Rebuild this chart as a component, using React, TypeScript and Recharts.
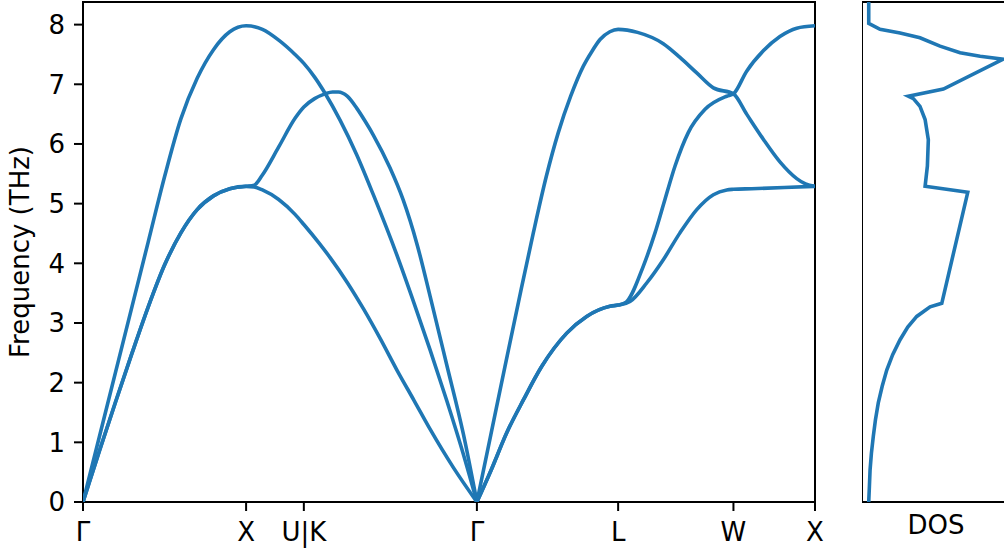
import { LineChart, Line, XAxis, YAxis, ReferenceArea } from 'recharts'

const BLUE = '#1f77b4'
const FONT = 'DejaVu Sans'

// high-symmetry points along the path (distance units)
const kLabels = ['Γ', 'X', 'U|K', 'Γ', 'L', 'W', 'X']
const kTicks = [0, 1, 1.354, 2.415, 3.281, 3.988, 4.488]
const freqTicks = [0, 1, 2, 3, 4, 5, 6, 7, 8]
const Y_MAX = 8.379

// Γ – X – U|K – Γ
const gxkLow = [
  [0, 0], [0.1, 0.85], [0.2, 1.68], [0.3, 2.49], [0.4, 3.27], [0.5, 3.97], [0.6, 4.51], [0.7, 4.9], [0.8, 5.13], [0.9, 5.25], [1, 5.29],
  [1.05, 5.28], [1.1, 5.23], [1.2, 5.07], [1.3, 4.82], [1.354, 4.65],
  [1.45, 4.33], [1.514, 4.1], [1.62, 3.68], [1.719, 3.24], [1.82, 2.75], [1.923, 2.22], [2.03, 1.7], [2.128, 1.22], [2.27, 0.58], [2.415, 0],
]
const gxkMid = [
  [0, 0], [0.1, 0.85], [0.2, 1.68], [0.3, 2.49], [0.4, 3.27], [0.5, 3.97], [0.6, 4.51], [0.7, 4.9], [0.8, 5.13], [0.9, 5.25], [1, 5.29],
  [1.05, 5.31], [1.1, 5.48], [1.2, 5.95], [1.3, 6.43], [1.354, 6.62],
  [1.42, 6.76], [1.484, 6.84], [1.53, 6.87], [1.566, 6.87], [1.62, 6.8], [1.678, 6.6], [1.73, 6.38], [1.78, 6.15], [1.882, 5.6], [1.962, 5.07],
  [2.05, 4.3], [2.128, 3.45], [2.23, 2.3], [2.332, 1.14], [2.415, 0],
]
const gxkTop = [
  [0, 0], [0.1, 1.09], [0.2, 2.18], [0.3, 3.27], [0.4, 4.36], [0.5, 5.45], [0.6, 6.42], [0.7, 7.1], [0.8, 7.58], [0.9, 7.88], [1, 7.98],
  [1.1, 7.92], [1.2, 7.74], [1.3, 7.5], [1.354, 7.35],
  [1.42, 7.12], [1.484, 6.85], [1.576, 6.4], [1.678, 5.82], [1.78, 5.15], [1.923, 4.15], [2.03, 3.33], [2.128, 2.55], [2.23, 1.7], [2.332, 0.8], [2.415, 0],
]

// Γ – L – W – X
const glwLow = [
  [2.415, 0], [2.5, 0.52], [2.598, 1.16], [2.7, 1.71], [2.812, 2.27], [2.966, 2.83], [3.088, 3.11], [3.231, 3.28], [3.281, 3.3],
  [3.354, 3.36], [3.456, 3.67], [3.558, 4.06], [3.66, 4.51], [3.763, 4.9], [3.865, 5.15], [3.947, 5.23], [3.988, 5.24],
  [4.1, 5.25], [4.3, 5.27], [4.488, 5.29],
]
const glwMid = [
  [2.415, 0], [2.5, 0.52], [2.598, 1.16], [2.7, 1.71], [2.812, 2.27], [2.966, 2.83], [3.088, 3.11], [3.231, 3.28], [3.281, 3.3],
  [3.33, 3.35], [3.435, 3.95], [3.507, 4.51], [3.568, 5.07], [3.63, 5.63], [3.711, 6.19], [3.814, 6.58], [3.947, 6.8], [3.988, 6.84],
  [4.069, 7.22], [4.171, 7.56], [4.273, 7.8], [4.376, 7.94], [4.488, 7.98],
]
const glwTop = [
  [2.415, 0], [2.5, 1.12], [2.587, 2.27], [2.67, 3.35], [2.761, 4.51], [2.84, 5.45], [2.914, 6.19], [2.99, 6.8], [3.067, 7.3], [3.12, 7.55], [3.17, 7.75], [3.23, 7.88], [3.281, 7.92],
  [3.4, 7.87], [3.558, 7.68], [3.66, 7.45], [3.763, 7.19], [3.865, 6.94], [3.988, 6.84],
  [4.069, 6.5], [4.171, 6.08], [4.273, 5.7], [4.376, 5.42], [4.43, 5.33], [4.488, 5.29],
]

// density of states
const dosFreq = [0, 0.26, 0.54, 0.82, 1.1, 1.38, 1.66, 1.94, 2.21, 2.47, 2.72, 2.93, 3.11, 3.27, 3.33, 5.19, 5.29, 5.63, 6.07, 6.41, 6.63, 6.76, 6.8, 6.92, 7.42, 7.47, 7.53, 7.64, 7.78, 7.86, 7.92, 8.02, 8.38]
const dosValue = [0, 0.005, 0.01, 0.02, 0.034, 0.05, 0.071, 0.1, 0.134, 0.178, 0.233, 0.29, 0.357, 0.456, 0.543, 0.736, 0.419, 0.436, 0.443, 0.419, 0.381, 0.332, 0.295, 0.555, 1.0, 0.828, 0.679, 0.53, 0.381, 0.233, 0.084, 0, 0]

const bands = [gxkLow, gxkMid, gxkTop, glwLow, glwMid, glwTop]
const toRows = (pts: number[][]) => pts.map(([q, f]) => ({ q, f }))
const dosRows = dosFreq.map((f, i) => ({ f, dos: dosValue[i] }))

const tickStyle = { fill: '#000', fontSize: 26, fontFamily: FONT }
const tickLineStyle = { stroke: '#000', strokeWidth: 2 }

export default function App() {
  return (
    <div style={{ position: 'absolute', left: 0, top: 0, width: 1004, height: 552, overflow: 'hidden', background: '#fff', fontFamily: FONT }}>
      <div style={{ position: 'absolute', left: 0, top: 0 }}>
        <LineChart width={830} height={552} margin={{ top: 2, right: 15, bottom: 0, left: 0 }}>
          <XAxis
            type="number"
            dataKey="q"
            domain={[0, 4.488]}
            ticks={kTicks}
            interval={0}
            allowDataOverflow
            tickFormatter={(v: number) => kLabels[kTicks.indexOf(v)]}
            height={50}
            tickSize={9}
            tickMargin={12}
            axisLine={false}
            tickLine={tickLineStyle}
            tick={tickStyle}
          />
          <YAxis
            type="number"
            domain={[0, Y_MAX]}
            ticks={freqTicks}
            interval={0}
            allowDataOverflow
            width={83}
            tickSize={9}
            tickMargin={9}
            axisLine={false}
            tickLine={tickLineStyle}
            tick={tickStyle}
            label={{ value: 'Frequency (THz)', angle: -90, position: 'insideLeft', offset: 20, style: { textAnchor: 'middle', fill: '#000', fontSize: 26, fontFamily: FONT } }}
          />
          {bands.map((b, i) => (
            <Line
              key={i}
              data={toRows(b)}
              dataKey="f"
              type="monotone"
              stroke={BLUE}
              strokeWidth={3.6}
              dot={false}
              activeDot={false}
              isAnimationActive={false}
            />
          ))}
          <ReferenceArea x1={0} x2={4.488} y1={0} y2={Y_MAX} fill="none" stroke="#000" strokeWidth={2} ifOverflow="visible" />
        </LineChart>
      </div>
      <div style={{ position: 'absolute', left: 862, top: 0 }}>
        <LineChart layout="vertical" width={148} height={552} data={dosRows} margin={{ top: 2, right: 0, bottom: 0, left: 0 }}>
          <XAxis
            type="number"
            domain={[-0.05, 1.05]}
            ticks={[0.5]}
            interval={0}
            allowDataOverflow
            tickFormatter={() => 'DOS'}
            height={50}
            tickSize={0}
            tickMargin={14}
            axisLine={false}
            tickLine={false}
            tick={tickStyle}
          />
          <YAxis type="number" dataKey="f" domain={[0, Y_MAX]} reversed allowDataOverflow hide />
          <Line dataKey="dos" type="linear" stroke={BLUE} strokeWidth={3.6} dot={false} activeDot={false} isAnimationActive={false} />
          <ReferenceArea x1={-0.05} x2={1.05} y1={0} y2={Y_MAX} fill="none" stroke="#000" strokeWidth={2} ifOverflow="visible" />
        </LineChart>
      </div>
    </div>
  )
}
